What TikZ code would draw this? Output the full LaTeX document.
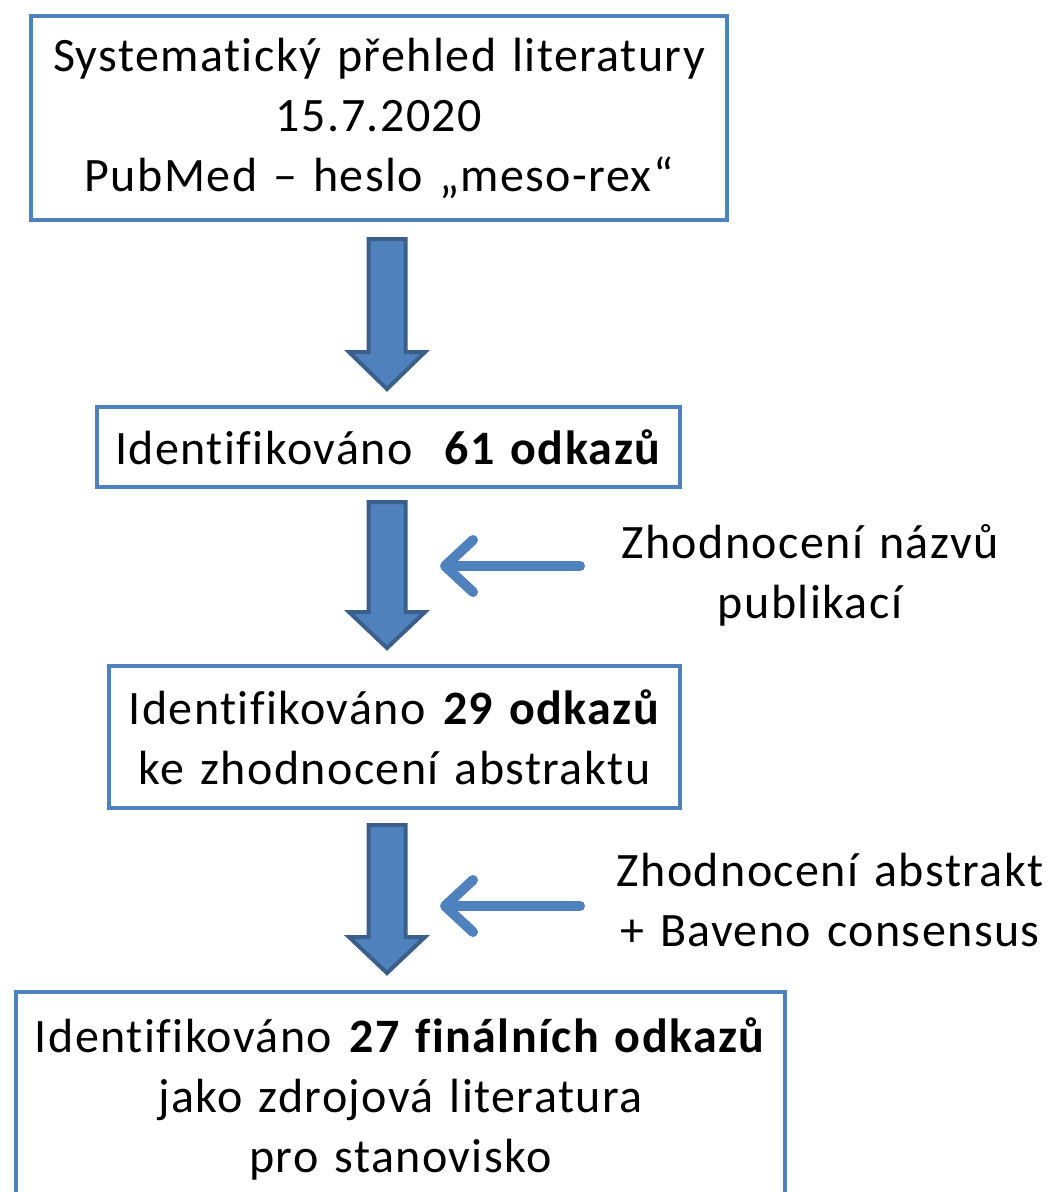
\documentclass[tikz,border=0pt]{standalone}
\usepackage{fontspec}
\setmainfont{Carlito}[LetterSpace=3,Ligatures=NoCommon,WordSpace=1.3]
\usetikzlibrary{arrows.meta,calc}
\definecolor{boxblue}{HTML}{4F81BD}
\definecolor{darkblue}{HTML}{3A5F8B}
\tikzset{
  flowbox/.style={draw=boxblue, line width=4pt, fill=white, align=center, inner sep=0pt,
    font=\fontsize{48}{60}\selectfont, anchor=north west},
  sidetext/.style={align=center, inner sep=0pt, font=\fontsize{48}{60}\selectfont},
  sidearrow/.style={draw=boxblue, line width=10pt, line cap=round, line join=round,
    -{Straight Barb[length=28pt, width=52pt, round]}},
  blockarrow/.style={fill=boxblue, draw=darkblue, line width=4pt, line join=miter}
}
\newcommand{\blockarr}[4]{% x center, top, head base, tip
  \draw[blockarrow] (#1-18.5,#2) -- (#1+18.5,#2) -- (#1+18.5,#3) -- (#1+38,#3) -- (#1,#4)
    -- (#1-38,#3) -- (#1-18.5,#3) -- cycle;}
\begin{document}
\begin{tikzpicture}[x=1pt,y=-1pt]
\useasboundingbox (0,0) rectangle (1058,1192);
\clip (0,0) rectangle (1058,1192);
\fill[white] (0,0) rectangle (1058,1192);
\node[flowbox, minimum width=696pt, minimum height=204pt] (b1) at (29,14)
  {Systematický přehled literatury\\15.7.2020\\PubMed – heslo „meso-rex“};
\node[flowbox, minimum width=583pt, minimum height=80pt] (b2) at (95,405)
  {Identifikováno\ \ \textbf{61 odkazů}};
\node[flowbox, minimum width=571pt, minimum height=142pt] (b3) at (107,664)
  {Identifikováno \textbf{29 odkazů}\\ke zhodnocení abstraktu};
\node[flowbox, minimum width=769pt, minimum height=214pt] (b4) at (14,990)
  {Identifikováno \textbf{27 finálních odkazů}\\jako zdrojová literatura\\pro stanovisko};
\blockarr{387}{239}{352}{389}
\blockarr{387}{502}{612}{648}
\blockarr{387}{825}{937}{973}
\node[sidetext] (t1) at (810,575) {Zhodnocení názvů\\publikací};
\node[sidetext] (t2) at (830,900) {Zhodnocení abstrakt\\+ Baveno consensus};
\coordinate (s1a) at (580,566);
\coordinate (s1b) at (440,566);
\coordinate (s2a) at (580,906);
\coordinate (s2b) at (440,906);
\draw[sidearrow] (s1a) -- (s1b);
\draw[sidearrow] (s2a) -- (s2b);
\end{tikzpicture}
\end{document}
